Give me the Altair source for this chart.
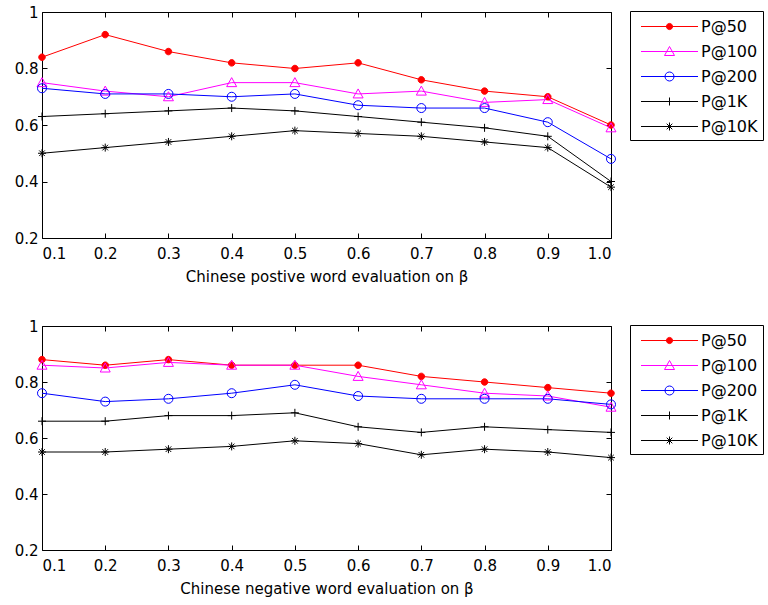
import altair as alt
import pandas as pd

beta = [0.1, 0.2, 0.3, 0.4, 0.5, 0.6, 0.7, 0.8, 0.9, 1.0]
series = ["P@50", "P@100", "P@200", "P@1K", "P@10K"]

pos_p50 = [0.84, 0.92, 0.86, 0.82, 0.80, 0.82, 0.76, 0.72, 0.70, 0.60]
pos_p100 = [0.75, 0.72, 0.70, 0.75, 0.75, 0.71, 0.72, 0.68, 0.69, 0.59]
pos_p200 = [0.73, 0.71, 0.71, 0.70, 0.71, 0.67, 0.66, 0.66, 0.61, 0.48]
pos_p1k = [0.63, 0.64, 0.65, 0.66, 0.65, 0.63, 0.61, 0.59, 0.56, 0.40]
pos_p10k = [0.50, 0.52, 0.54, 0.56, 0.58, 0.57, 0.56, 0.54, 0.52, 0.38]

neg_p50 = [0.88, 0.86, 0.88, 0.86, 0.86, 0.86, 0.82, 0.80, 0.78, 0.76]
neg_p100 = [0.86, 0.85, 0.87, 0.86, 0.86, 0.82, 0.79, 0.76, 0.75, 0.71]
neg_p200 = [0.76, 0.73, 0.74, 0.76, 0.79, 0.75, 0.74, 0.74, 0.74, 0.72]
neg_p1k = [0.66, 0.66, 0.68, 0.68, 0.69, 0.64, 0.62, 0.64, 0.63, 0.62]
neg_p10k = [0.55, 0.55, 0.56, 0.57, 0.59, 0.58, 0.54, 0.56, 0.55, 0.53]

colors = ["#ff0000", "#ff00ff", "#0000ff", "#000000", "#000000"]
fills = ["#ff0000", "transparent", "transparent", "transparent", "transparent"]

# marker shapes (unit = 5 px at size 100)
marker_paths = [
    "M-0.65,0A0.65,0.65 0 1,0 0.65,0A0.65,0.65 0 1,0 -0.65,0Z",
    "M0,-1L1,0.8L-1,0.8Z",
    "M-0.9,0A0.9,0.9 0 1,0 0.9,0A0.9,0.9 0 1,0 -0.9,0Z",
    "M-0.8,0L0.8,0M0,-0.8L0,0.8",
    "M-0.8,0L0.8,0M0,-0.8L0,0.8M-0.56,-0.56L0.56,0.56M-0.56,0.56L0.56,-0.56",
]
# legend symbols: line segment with marker (unit = 10 px at size 400)
legend_paths = [
    "M-2.85,0L2.85,0M-0.31,0A0.31,0.31 0 1,0 0.31,0A0.31,0.31 0 1,0 -0.31,0Z",
    "M-2.85,0L2.85,0M0,-0.5L0.5,0.4L-0.5,0.4Z",
    "M-2.85,0L2.85,0M-0.45,0A0.45,0.45 0 1,0 0.45,0A0.45,0.45 0 1,0 -0.45,0Z",
    "M-2.85,0L2.85,0M0,-0.4L0,0.4",
    "M-2.85,0L2.85,0M0,-0.4L0,0.4M-0.28,-0.28L0.28,0.28M-0.28,0.28L0.28,-0.28",
]

FONT = "DejaVu Sans"


def make_df(vals):
    rows = []
    for s, v in zip(series, vals):
        for b, y in zip(beta, v):
            rows.append({"beta": b, "value": y, "series": s})
    return pd.DataFrame(rows)


def panel(df, title, h):
    xs = alt.Scale(domain=[0.1, 1.0], nice=False, zero=False)
    ys = alt.Scale(domain=[0.2, 1.0], nice=False, zero=False)
    yvals = [0.2, 0.4, 0.6, 0.8, 1.0]

    lines = alt.Chart(df).mark_line(strokeWidth=1).encode(
        x=alt.X("beta:Q", scale=xs, axis=alt.Axis(
            orient="bottom", values=beta, format=".1f", offset=-5, tickSize=5,
            domain=False, grid=False, title=title, labelPadding=8,
            titlePadding=8)),
        y=alt.Y("value:Q", scale=ys, axis=alt.Axis(
            orient="left", values=yvals, format="~g", offset=-5, tickSize=5,
            domain=False, grid=False, title=None, labelPadding=4)),
        color=alt.Color("series:N", scale=alt.Scale(domain=series, range=colors), legend=None),
    )

    markers = alt.Chart(df).mark_point(filled=False, strokeWidth=1, opacity=1, size=100).encode(
        x=alt.X("beta:Q", scale=xs, axis=alt.Axis(
            orient="top", values=beta, labels=False, offset=-5, tickSize=5,
            domain=False, grid=False, title=None)),
        y=alt.Y("value:Q", scale=ys, axis=alt.Axis(
            orient="right", values=yvals, labels=False, offset=-5, tickSize=5,
            domain=False, grid=False, title=None)),
        shape=alt.Shape("series:N", scale=alt.Scale(domain=series, range=marker_paths), legend=None),
        fill=alt.Fill("series:N", scale=alt.Scale(domain=series, range=fills), legend=None),
        stroke=alt.Stroke("series:N", scale=alt.Scale(domain=series, range=colors), legend=None),
    )

    leg = alt.Legend(
        title=None, orient="none", legendX=588, legendY=-1,
        strokeColor="black", fillColor="white", padding=5,
        symbolSize=400, symbolStrokeWidth=1, symbolOffset=24, labelFont=FONT,
        labelFontSize=16, labelColor="black", labelOffset=21, rowPadding=6,
    )
    legend_layer = alt.Chart(df).transform_filter("datum.value < 0").mark_point(
        filled=False, strokeWidth=1, opacity=1).encode(
        shape=alt.Shape("series:N", scale=alt.Scale(domain=series, range=legend_paths), legend=leg),
        fill=alt.Fill("series:N", scale=alt.Scale(domain=series, range=fills), legend=leg),
        stroke=alt.Stroke("series:N", scale=alt.Scale(domain=series, range=colors), legend=leg),
    )

    return alt.layer(lines, markers, legend_layer).resolve_scale(
        shape="independent", fill="independent", stroke="independent", color="independent"
    ).resolve_axis(x="independent", y="independent").resolve_legend(
        shape="independent", fill="independent", stroke="independent", color="independent"
    ).properties(width=569, height=h)


top = panel(make_df([pos_p50, pos_p100, pos_p200, pos_p1k, pos_p10k]),
            "Chinese postive word evaluation on \u03b2", 226)
bottom = panel(make_df([neg_p50, neg_p100, neg_p200, neg_p1k, neg_p10k]),
               "Chinese negative word evaluation on \u03b2", 224)

chart = alt.vconcat(top, bottom, spacing=33).properties(
    padding={"left": 13, "top": 4, "right": 0, "bottom": 0},
    background="white",
).configure_view(stroke="black", strokeWidth=1).configure_axis(
    labelFont=FONT, labelFontSize=15, labelColor="black",
    titleFont=FONT, titleFontSize=15, titleFontWeight="normal", titleColor="black",
    tickColor="black", tickWidth=1,
)

chart.save("out.html", embed_options={"renderer": "svg", "actions": False})
